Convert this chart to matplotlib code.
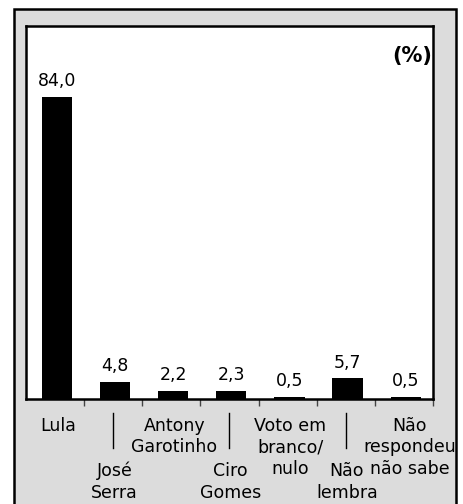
import matplotlib.pyplot as plt
from matplotlib.patches import Rectangle
from matplotlib.transforms import blended_transform_factory

# data
categories = ["Lula", "José\nSerra", "Antony\nGarotinho", "Ciro\nGomes",
              "Voto em\nbranco/\nnulo", "Não\nlembra", "Não\nrespondeu\nnão sabe"]
values = [84.0, 4.8, 2.2, 2.3, 0.5, 5.7, 0.5]
value_labels = ["84,0", "4,8", "2,2", "2,3", "0,5", "5,7", "0,5"]

W, H = 464, 504
fig = plt.figure(figsize=(W / 100, H / 100), dpi=100)
fig.patch.set_facecolor("white")

# gray outer frame
frame = Rectangle((14 / W, -0.05), 442 / W, 1.05 - 9 / H, transform=fig.transFigure,
                  facecolor="#dcdcdc", edgecolor="black", linewidth=1.8, zorder=-5)
fig.patches.append(frame)

ax = fig.add_axes([26 / W, (H - 399) / H, 407 / W, 373 / H])
ax.set_zorder(2)
ax.set_facecolor("white")
for s in ax.spines.values():
    s.set_linewidth(1.8)
    s.set_color("black")

x = list(range(len(values)))
ax.bar([i + 0.03 for i in x], values, width=0.52, color="black")
ax.set_xlim(-0.5, len(values) - 0.5)
ax.set_ylim(0, 103.6)
ax.set_yticks([])
ax.set_xticks([i + 0.5 for i in x])
ax.set_xticklabels([])
ax.tick_params(axis="x", length=5, width=1, color="#444444", direction="out")

fs = 12.5
for i, (v, lab) in enumerate(zip(values, value_labels)):
    ax.annotate(lab, (i + 0.03, v), xytext=(0, 5), textcoords="offset points",
                ha="center", va="bottom", fontsize=fs)

ax.text(0.997, 0.92, "(%)", transform=ax.transAxes, ha="right", va="center",
        fontsize=15, fontweight="bold")

# alternating category labels
trans = blended_transform_factory(ax.transData, fig.transFigure)
for i, cat in enumerate(categories):
    if i % 2 == 0:
        y = 1 - 417 / H
        ax.text(i + 0.05 if i < 6 else i + 0.1, y, cat, transform=trans, ha="center",
                va="top", fontsize=fs, linespacing=1.25, clip_on=False)
    else:
        ax.plot([i, i], [1 - 413 / H, 1 - 448 / H], transform=trans, color="black",
                lw=1, clip_on=False)
        ax.text(i + 0.02, 1 - 462 / H, cat, transform=trans, ha="center", va="top",
                fontsize=fs, linespacing=1.25, clip_on=False)

fig.savefig("out.png", dpi=100)
